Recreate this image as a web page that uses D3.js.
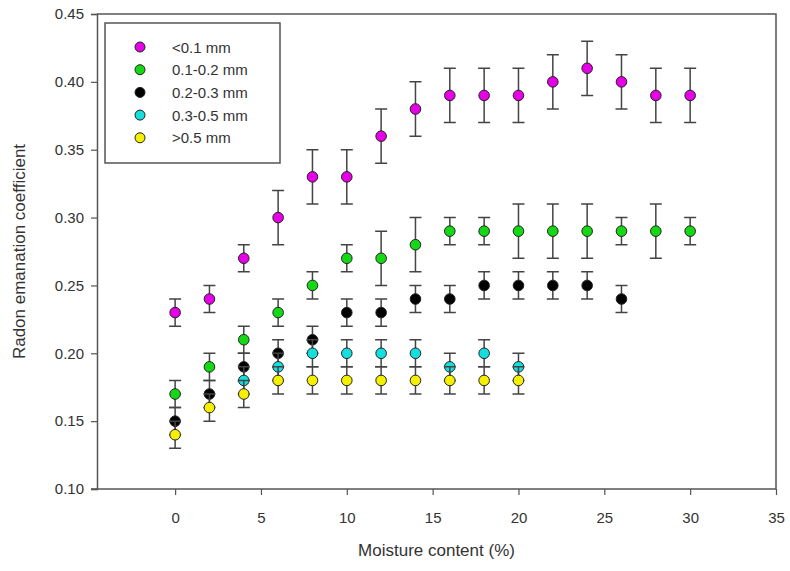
<!DOCTYPE html>
<html>
<head>
<meta charset="utf-8">
<script src="https://cdn.jsdelivr.net/npm/d3@7"></script>
<style>
  body { margin: 0; background: #fff; }
  text { font-family: "Liberation Sans", Arial, sans-serif; fill: #333; }
</style>
</head>
<body>
<svg id="chart" width="790" height="571"></svg>
<script>
// moisture content (%)
var moisture = [0, 2, 4, 6, 8, 10, 12, 14, 16, 18, 20, 22, 24, 26, 28, 30];

var lt01 = [0.23, 0.24, 0.27, 0.30, 0.33, 0.33, 0.36, 0.38, 0.39, 0.39, 0.39, 0.40, 0.41, 0.40, 0.39, 0.39];
var lt01Err = [0.01, 0.01, 0.01, 0.02, 0.02, 0.02, 0.02, 0.02, 0.02, 0.02, 0.02, 0.02, 0.02, 0.02, 0.02, 0.02];

var r0102 = [0.17, 0.19, 0.21, 0.23, 0.25, 0.27, 0.27, 0.28, 0.29, 0.29, 0.29, 0.29, 0.29, 0.29, 0.29, 0.29];
var r0102Err = [0.01, 0.01, 0.01, 0.01, 0.01, 0.01, 0.02, 0.02, 0.01, 0.01, 0.02, 0.02, 0.02, 0.01, 0.02, 0.01];

var r0203 = [0.15, 0.17, 0.19, 0.20, 0.21, 0.23, 0.23, 0.24, 0.24, 0.25, 0.25, 0.25, 0.25, 0.24];
var r0203Err = [0.01, 0.01, 0.01, 0.01, 0.01, 0.01, 0.01, 0.01, 0.01, 0.01, 0.01, 0.01, 0.01, 0.01];

// starts at 4 %
var r0305 = [null, null, 0.18, 0.19, 0.20, 0.20, 0.20, 0.20, 0.19, 0.20, 0.19];
var r0305Err = [0, 0, 0.01, 0.01, 0.01, 0.01, 0.01, 0.01, 0.01, 0.01, 0.01];

var gt05 = [0.14, 0.16, 0.17, 0.18, 0.18, 0.18, 0.18, 0.18, 0.18, 0.18, 0.18];
var gt05Err = [0.01, 0.01, 0.01, 0.01, 0.01, 0.01, 0.01, 0.01, 0.01, 0.01, 0.01];

var seriesNames = ["<0.1 mm", "0.1-0.2 mm", "0.2-0.3 mm", "0.3-0.5 mm", ">0.5 mm"];
var seriesColors = ["#e600e6", "#14d814", "#000000", "#14dede", "#f5f000"];

var xTicks = [0, 5, 10, 15, 20, 25, 30, 35];
var yTicks = [0.10, 0.15, 0.20, 0.25, 0.30, 0.35, 0.40, 0.45];

var series = [
  { vals: lt01, err: lt01Err },
  { vals: r0102, err: r0102Err },
  { vals: r0203, err: r0203Err },
  { vals: r0305, err: r0305Err },
  { vals: gt05, err: gt05Err }
].map(function (s, k) {
  var pts = [];
  s.vals.forEach(function (v, i) {
    if (v != null) pts.push({ x: moisture[i], y: v, e: s.err[i] });
  });
  return { name: seriesNames[k], color: seriesColors[k], points: pts };
});

var svg = d3.select("#chart");
var pl = 97, pr = 776, pt = 14, pb = 489;

var x = d3.scaleLinear().domain([-4.55, 35]).range([pl, pr]);
var y = d3.scaleLinear().domain([0.10, 0.45]).range([pb, pt]);

var axisColor = "#555";

// frame (top + right)
svg.append("path")
  .attr("d", "M" + pl + "," + pt + "H" + pr + "V" + pb)
  .attr("fill", "none")
  .attr("stroke", axisColor)
  .attr("stroke-width", 1.5);

var gx = svg.append("g")
  .attr("transform", "translate(0," + pb + ")")
  .call(d3.axisBottom(x).tickValues(xTicks).tickSize(6).tickPadding(17).tickFormat(d3.format("d")));

var gy = svg.append("g")
  .attr("transform", "translate(" + pl + ",0)")
  .call(d3.axisLeft(y).tickValues(yTicks).tickSize(6).tickPadding(7).tickFormat(d3.format(".2f")));

[gx, gy].forEach(function (g) {
  g.select(".domain").attr("stroke", axisColor).attr("stroke-width", 1.5);
  g.selectAll(".tick line").attr("stroke", axisColor).attr("stroke-width", 1.2);
  g.selectAll(".tick text").attr("fill", "#444").style("font-size", "15px")
    .style("font-family", "'Liberation Sans', Arial, sans-serif");
});
// x axis extends a bit left of y axis
gx.select(".domain").attr("d", "M" + (pl - 6) + ",0H" + pr);

// axis titles
svg.append("text")
  .attr("x", (pl + pr) / 2)
  .attr("y", 556)
  .attr("text-anchor", "middle")
  .style("font-size", "17px")
  .text("Moisture content (%)");

svg.append("text")
  .attr("transform", "translate(25," + ((pt + pb) / 2) + ") rotate(-90)")
  .attr("text-anchor", "middle")
  .style("font-size", "17px")
  .text("Radon emanation coefficient");

// series: error bars then points
var capW = 6;
series.forEach(function (s) {
  var g = svg.append("g");
  g.selectAll(".bar").data(s.points).enter().append("path")
    .attr("class", "bar")
    .attr("fill", "none")
    .attr("stroke", "#444")
    .attr("stroke-width", 1.5)
    .attr("d", function (d) {
      var cx = x(d.x), y1 = y(d.y + d.e), y2 = y(d.y - d.e);
      return "M" + (cx - capW) + "," + y1 + "H" + (cx + capW) +
        "M" + cx + "," + y1 + "V" + y2 +
        "M" + (cx - capW) + "," + y2 + "H" + (cx + capW);
    });
  g.selectAll("circle").data(s.points).enter().append("circle")
    .attr("cx", function (d) { return x(d.x); })
    .attr("cy", function (d) { return y(d.y); })
    .attr("r", 5.3)
    .attr("fill", s.color)
    .attr("stroke", "#222")
    .attr("stroke-width", 1);
});

// legend
var legend = svg.append("g");
legend.append("rect")
  .attr("x", 105).attr("y", 23)
  .attr("width", 175).attr("height", 140)
  .attr("fill", "#fff")
  .attr("stroke", axisColor)
  .attr("stroke-width", 1.5);

var rows = legend.selectAll(".row").data(series).enter().append("g")
  .attr("transform", function (d, i) { return "translate(0," + (47 + i * 22.7) + ")"; });
rows.append("circle")
  .attr("cx", 140).attr("cy", 0).attr("r", 5)
  .attr("fill", function (d) { return d.color; })
  .attr("stroke", "#222").attr("stroke-width", 1);
rows.append("text")
  .attr("x", 172).attr("y", 5.5)
  .style("font-size", "15px")
  .text(function (d) { return d.name; });
</script>
</body>
</html>
